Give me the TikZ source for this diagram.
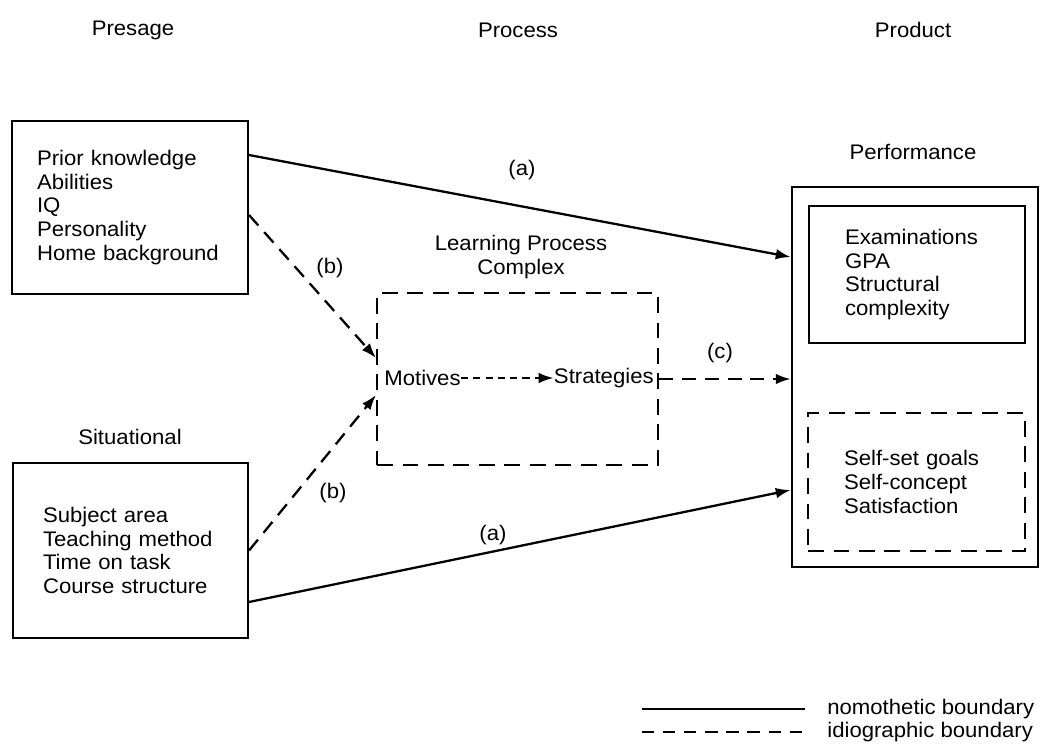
\documentclass[tikz,border=0pt]{standalone}
\usepackage{fontspec}
\setmainfont{Liberation Sans}[FakeStretch=1.05]
\usetikzlibrary{positioning,arrows.meta,calc}

\begin{document}
\begin{tikzpicture}[
  x=0.02cm, y=-0.02cm,
  >={Latex[length=8.5pt,width=6pt]},
  every node/.style={font=\fontsize{12}{13.6}\selectfont, inner sep=0pt},
  nomo/.style={draw=black, line width=1.2pt},
  idio/.style={draw=black, line width=1.2pt, dash pattern=on 9pt off 5.5pt},
  box/.style={nomo, align=left},
  dbox/.style={idio, align=left},
  link/.style={->, black, line width=1.3pt},
  dlink/.style={->, black, line width=1.3pt, dash pattern=on 8pt off 5pt}
]
  \useasboundingbox (0,0) rectangle (1043,744);

  % --- column headings ---
  \node (presage) at (133,30) {Presage};
  \node (process) at (518,30) {Process};
  \node (product) at (913,30) {Product};

  % --- presage: personal and situational factors ---
  \node[box, minimum width=4.72cm, minimum height=3.46cm, text width=3.72cm, inner xsep=0.5cm] (pre) at (130,207.5)
    {Prior knowledge\\Abilities\\IQ\\Personality\\Home background};
  \node (sitlabel) at (130,437) {Situational};
  \node[box, minimum width=4.7cm, minimum height=3.5cm, text width=3.5cm, inner xsep=0.6cm] (sit) at (130.5,550.5)
    {Subject area\\Teaching method\\Time on task\\Course structure};

  % --- process: learning process complex ---
  \node[align=center] (lpclabel) at (521,257) {Learning Process\\Complex};
  \node[dbox, minimum width=5.62cm, minimum height=3.44cm] (lpc) at (517.5,379) {};
  \node[anchor=west] (mot) at (384,378) {Motives};
  \node[anchor=east] (str) at (654,378) {Strategies};

  % --- product: performance ---
  \node (perflabel) at (913,152) {Performance};
  \node[nomo, line width=1.5pt, minimum width=4.92cm, minimum height=7.6cm] (perf) at (915,377) {};
  \node[box, minimum width=4.32cm, minimum height=2.74cm, text width=2.88cm, inner xsep=0.72cm] (exam) at (917,274.5)
    {Examinations\\GPA\\Structural\\complexity};
  \node[dbox, minimum width=4.34cm, minimum height=2.76cm, text width=2.9cm, inner xsep=0.72cm] (self) at (916.5,482)
    {Self-set goals\\Self-concept\\Satisfaction};

  % --- paths (a), (b), (c) ---
  \draw[link] ([yshift=1.05cm]pre.east) -- ([yshift=2.4cm]perf.west);
  \draw[link] ([yshift=-1.03cm]sit.east) -- ([yshift=-2.26cm]perf.west);
  \draw[dlink] ([yshift=-0.15cm]pre.east) -- ([yshift=0.42cm]lpc.west);
  \draw[dlink] (sit.east) -- ([yshift=-0.32cm]lpc.west);
  \draw[dlink] (lpc.east) -- (lpc.east -| perf.west);
  \draw[dlink, dash pattern=on 4pt off 3pt] (mot) -- (str);

  \node (ta) at (522,170) {(a)};
  \node (tb) at (330,268) {(b)};
  \node (tb2) at (333,493) {(b)};
  \node (ta2) at (493,535) {(a)};
  \node (tc) at (720,353) {(c)};

  % --- legend ---
  \coordinate (nomoA) at (642,709);
  \coordinate (nomoB) at (805,709);
  \coordinate (idioA) at (642,732);
  \coordinate (idioB) at (805,732);
  \draw[nomo] (nomoA) -- (nomoB);
  \draw[idio, dash pattern=on 7pt off 5pt] (idioA) -- (idioB);
  \node[anchor=west] (nomotext) at (827,709) {nomothetic boundary};
  \node[anchor=west] (idiotext) at (827,732) {idiographic boundary};

\end{tikzpicture}
\end{document}
